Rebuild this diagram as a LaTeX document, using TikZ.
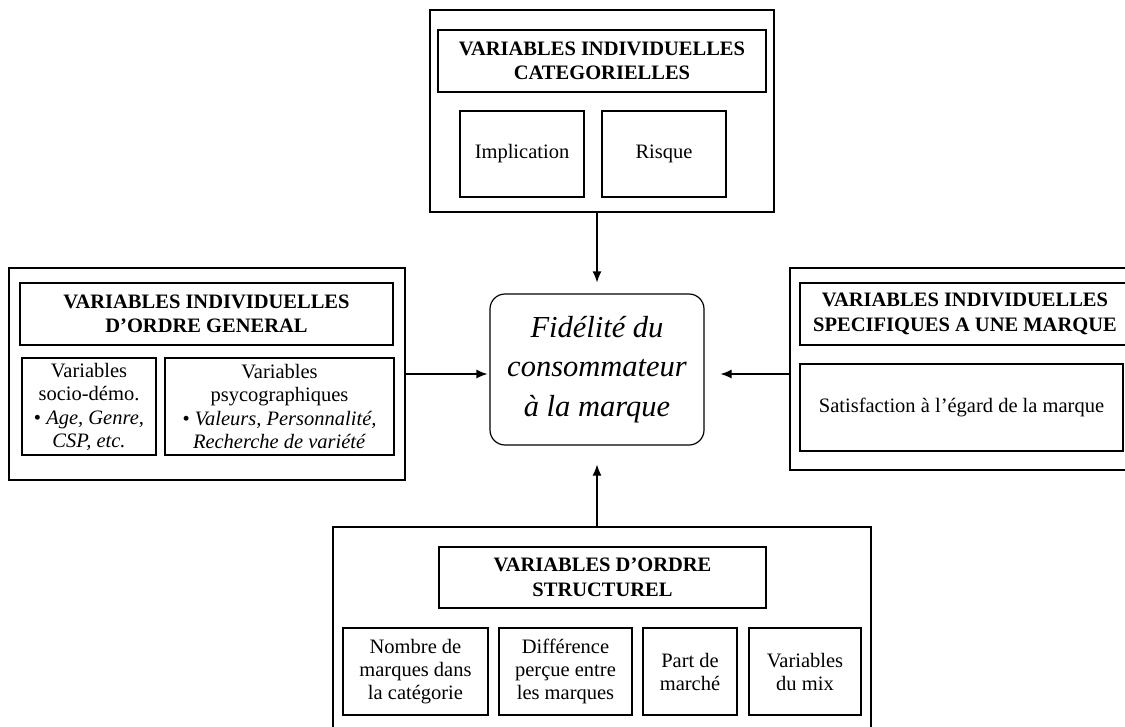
\documentclass[tikz,border=0pt]{standalone}
\usepackage{fontspec}
\setmainfont{Liberation Serif}
\usetikzlibrary{arrows.meta}
\begin{document}
\begin{tikzpicture}[x=1pt,y=-1pt,
  outer/.style={draw, line width=1.4pt, inner sep=0pt, minimum width=#1},
  box/.style={draw, line width=1.2pt, inner sep=0pt, align=center,
    font=\fontsize{20.5}{23}\selectfont},
  hdr/.style={box, font=\bfseries\fontsize{20.5}{24.5}\selectfont},
  arr/.style={line width=1.2pt, -{Latex[length=11pt,width=9pt]}}
]
\useasboundingbox (0,0) rectangle (1125,726);
\clip (0,0) rectangle (1125,726);

% top group
\node[outer=344pt, minimum height=202pt] (topbox) at (602,111) {};
\node[hdr, minimum width=328pt, minimum height=62pt] (tophdr) at (602,61) {VARIABLES INDIVIDUELLES\\CATEGORIELLES};
\node[box, minimum width=124pt, minimum height=86pt] (impl) at (522,154) {Implication};
\node[box, minimum width=124pt, minimum height=86pt] (risq) at (664,154) {Risque};

% left group
\node[outer=396pt, minimum height=212pt] (leftbox) at (207,374) {};
\node[hdr, minimum width=373pt, minimum height=62pt] (lefthdr) at (206.5,314) {VARIABLES INDIVIDUELLES\\D’ORDRE GENERAL};
\node[box, minimum width=134pt, minimum height=97pt] (socio) at (89,406.5) {Variables\\socio-démo.\\[1pt]• \textit{Age, Genre,}\\\textit{CSP, etc.}};
\node[box, minimum width=229pt, minimum height=97pt] (psyco) at (279.5,406.5) {Variables\\psycographiques\\[1pt]• \textit{Valeurs, Personnalité,}\\\textit{Recherche de variété}};

% center
\node[draw, line width=1.2pt, rounded corners=15pt, inner sep=0pt, align=center,
  minimum width=214pt, minimum height=151pt,
  font=\itshape\fontsize{30.5}{39.5}\selectfont] (fid) at (597,369.5) {Fidélité du\\consommateur\\à la marque};

% right group
\node[outer=350pt, minimum height=202pt] (rightbox) at (965,369) {};
\node[hdr, minimum width=330pt, minimum height=62pt] (righthdr) at (965,314) {VARIABLES INDIVIDUELLES\\SPECIFIQUES A UNE MARQUE};
\node[box, minimum width=323pt, minimum height=87pt] (satis) at (961.5,407.5) {Satisfaction à l’égard de la marque};

% bottom group
\node[outer=538pt, minimum height=220pt] (botbox) at (602,637) {};
\node[hdr, minimum width=327pt, minimum height=61pt] (bothdr) at (602.5,577.5) {VARIABLES D’ORDRE\\STRUCTUREL};
\node[box, minimum width=145pt, minimum height=87pt] (nombre) at (415.5,671.5) {Nombre de\\marques dans\\la catégorie};
\node[box, minimum width=133pt, minimum height=87pt] (diff) at (565.5,671.5) {Différence\\perçue entre\\les marques};
\node[box, minimum width=94pt, minimum height=87pt] (part) at (690,671.5) {Part de\\marché};
\node[box, minimum width=112pt, minimum height=87pt] (mix) at (805,671.5) {Variables\\du mix};

% arrows
\draw[arr, shorten >=11pt] (fid.north |- topbox.south) -- (fid.north);
\draw[arr, shorten >=19pt] (fid.south |- botbox.north) -- (fid.south);
\draw[arr, shorten >=2pt] (leftbox.east) -- (leftbox.east -| fid.west);
\draw[arr, shorten >=16pt] (rightbox.west |- leftbox.east) -- (fid.east |- leftbox.east);
\end{tikzpicture}
\end{document}
